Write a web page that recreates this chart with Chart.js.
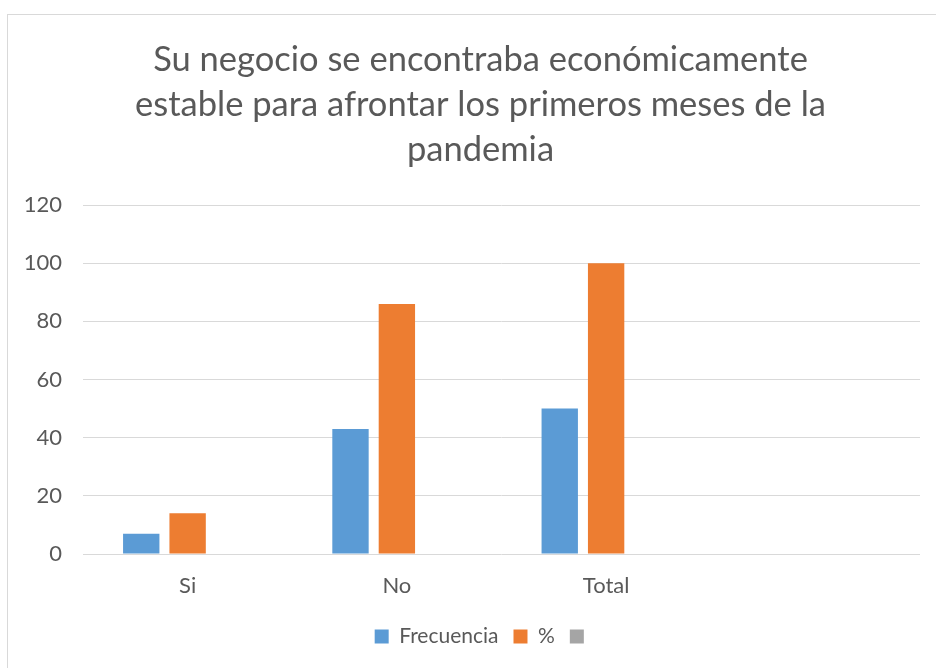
<!DOCTYPE html>
<html>
<head>
<meta charset="utf-8">
<script src="https://cdn.jsdelivr.net/npm/chart.js@4"></script>
<style>
  html, body { margin: 0; padding: 0; background: #fff; }
  #wrap { position: relative; width: 936px; height: 668px; overflow: hidden; }
  #frame { position: absolute; left: 7px; top: 14px; width: 940px; height: 700px;
           border: 1px solid #d9d9d9; box-sizing: border-box; }
  #chart { position: absolute; left: 0; top: 0; }
</style>
</head>
<body>
<div id="wrap">
  <div id="frame"></div>
  <canvas id="chart" width="936" height="668"></canvas>
</div>
<script>
// chart data
const categories = ['Si', 'No', 'Total', ''];
const frecuencia = [7, 43, 50, null];
const porcentaje = [14, 86, 100, null];
const tercera = [null, null, null, null];
const yTicks = [0, 20, 40, 60, 80, 100, 120];
const titleLines = [
  'Su negocio se encontraba económicamente',
  'estable para afrontar los primeros meses de la',
  'pandemia'
];

const FONT = 'Lato, "Open Sans", sans-serif';
const TEXT_GREY = '#595959';

// the frame runs past the right edge, so title and legend sit a bit right of the canvas centre
const shiftBlocks = {
  id: 'shiftBlocks',
  afterLayout(chart) {
    if (chart.titleBlock) { chart.titleBlock.left += 17; chart.titleBlock.right += 17; }
    if (chart.legend) { chart.legend.left += 21; chart.legend.right += 21; }
  }
};

const ctx = document.getElementById('chart').getContext('2d');
new Chart(ctx, {
  type: 'bar',
  data: {
    labels: categories,
    datasets: [
      { label: 'Frecuencia', data: frecuencia, backgroundColor: '#5b9bd5' },
      { label: '%', data: porcentaje, backgroundColor: '#ed7d31' },
      { label: '', data: tercera, backgroundColor: '#a5a5a5' }
    ]
  },
  plugins: [shiftBlocks],
  options: {
    responsive: false,
    animation: false,
    categoryPercentage: 0.665,
    barPercentage: 0.784,
    layout: { padding: { left: 7, right: 16, top: 37, bottom: 11 } },
    plugins: {
      title: {
        display: true,
        text: titleLines,
        color: TEXT_GREY,
        font: { family: FONT, size: 34.5, weight: 'normal', lineHeight: 45 / 34.5 },
        padding: { top: 0, bottom: 33 }
      },
      legend: {
        position: 'bottom',
        labels: {
          color: TEXT_GREY,
          font: { family: FONT, size: 21 },
          boxWidth: 14,
          boxHeight: 14,
          padding: 15
        }
      },
      tooltip: { enabled: false }
    },
    scales: {
      x: {
        afterFit: (scale) => { scale.height = 57; },
        grid: { display: false, drawTicks: false },
        border: { display: false },
        ticks: { color: TEXT_GREY, font: { family: FONT, size: 22 }, padding: 19 }
      },
      y: {
        min: 0,
        max: 120,
        afterFit: (scale) => { scale.width = 76; },
        afterBuildTicks: (scale) => { scale.ticks = yTicks.map(v => ({ value: v })); },
        grid: { color: '#d9d9d9', lineWidth: 1, drawTicks: false },
        border: { display: false },
        ticks: { color: TEXT_GREY, font: { family: FONT, size: 22 }, padding: 21 }
      }
    }
  }
});
</script>
</body>
</html>
